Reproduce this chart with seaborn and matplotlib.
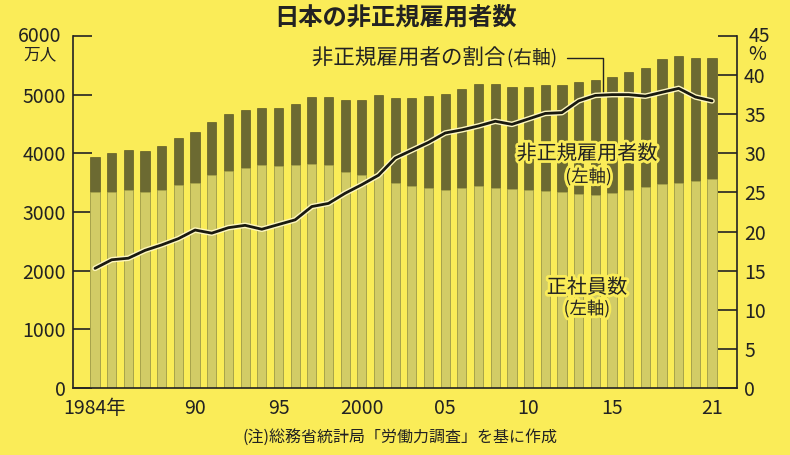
import numpy as np
import pandas as pd
import matplotlib
matplotlib.use("Agg")
import matplotlib.pyplot as plt
import matplotlib.patheffects as pe
import seaborn as sns

years = list(range(1984, 2022))
regular = [3333, 3343, 3383, 3337, 3377, 3452, 3488, 3639, 3705, 3756,
           3805, 3779, 3800, 3812, 3794, 3688, 3630, 3640, 3489, 3444,
           3410, 3375, 3415, 3449, 3410, 3395, 3374, 3352, 3345, 3302,
           3288, 3317, 3367, 3423, 3485, 3494, 3529, 3555]
nonregular = [604, 655, 674, 711, 755, 817, 881, 897, 958, 986,
              971, 1001, 1043, 1152, 1173, 1225, 1273, 1360, 1451, 1504,
              1564, 1634, 1678, 1735, 1765, 1727, 1763, 1812, 1816, 1910,
              1967, 1986, 2023, 2036, 2120, 2165, 2090, 2064]
ratio = [15.3, 16.4, 16.6, 17.6, 18.3, 19.1, 20.2, 19.8, 20.5, 20.8,
         20.3, 20.9, 21.5, 23.2, 23.6, 24.9, 26.0, 27.2, 29.4, 30.4,
         31.4, 32.6, 33.0, 33.5, 34.1, 33.7, 34.4, 35.1, 35.2, 36.7,
         37.4, 37.5, 37.5, 37.3, 37.8, 38.3, 37.2, 36.7]
xticks = [1984, 1990, 1995, 2000, 2005, 2010, 2015, 2021]
xticklabels = ["1984年", "90", "95", "2000", "05", "10", "15", "21"]

df = pd.DataFrame({"year": years, "regular": regular, "nonregular": nonregular,
                   "ratio": ratio})
df["total"] = df["regular"] + df["nonregular"]

BG = "#FAEC58"
DARK = "#6C6A32"
LIGHT = "#D2CC66"
INK = "#222222"
sns.set_theme(style="white")
plt.rcParams["font.family"] = ["Noto Sans CJK JP", "DejaVu Sans"]
plt.rcParams["axes.unicode_minus"] = False

fig = plt.figure(figsize=(7.9, 4.55), dpi=100, facecolor=BG)
ax = fig.add_axes([0.0924, 0.147, 0.8406, 0.774])
ax.set_facecolor(BG)

sns.barplot(data=df, x="year", y="total", native_scale=True, color=DARK,
            saturation=1, width=0.55, ax=ax, edgecolor="#4a4820", linewidth=0.4)
sns.barplot(data=df, x="year", y="regular", native_scale=True, color=LIGHT,
            saturation=1, width=0.55, ax=ax, edgecolor="#aca84c", linewidth=0.4)

TICKFS = 14
ax.set_xlim(1982.68, 2022.5)
ax.set_ylim(0, 6000)
ax.set_yticks([0, 1000, 2000, 3000, 4000, 5000, 6000])
ax.set_yticklabels(["0", "1000", "2000", "3000", "4000", "5000", ""], fontsize=TICKFS)
ax.set_xticks(xticks)
ax.set_xticklabels(xticklabels, fontsize=TICKFS)
ax.set_xlabel("")
ax.set_ylabel("")
for s in ["top", "right"]:
    ax.spines[s].set_visible(False)
for s in ["left", "bottom"]:
    ax.spines[s].set_color(INK)
    ax.spines[s].set_linewidth(1.2)
ax.tick_params(axis="y", direction="in", length=14, width=1.2, color=INK,
               pad=5, labelcolor=INK)
ax.tick_params(axis="x", direction="out", length=5, width=1.2, color=INK,
               pad=2, labelcolor=INK)

ax2 = ax.twinx()
sns.lineplot(data=df, x="year", y="ratio", ax=ax2, color="#1a1a10", lw=2.0,
             path_effects=[pe.Stroke(linewidth=4.0, foreground="#FFF8C0"), pe.Normal()])
ax2.set_ylim(0, 45)
ax2.set_xlim(1982.68, 2022.5)
ax2.set_yticks([0, 5, 10, 15, 20, 25, 30, 35, 40, 45])
ax2.set_yticklabels(["0", "5", "10", "15", "20", "25", "30", "35", "40", ""], fontsize=TICKFS)
ax2.set_ylabel("")
for s in ["top", "left", "bottom"]:
    ax2.spines[s].set_visible(False)
ax2.spines["right"].set_color(INK)
ax2.spines["right"].set_linewidth(1.2)
ax2.tick_params(axis="y", direction="in", length=14, width=1.2, color=INK,
                pad=5, labelcolor=INK)

# top labels of axes
fig.text(40 / 790, 1 - 36 / 455, "6000", ha="center", va="center", fontsize=TICKFS, color=INK)
fig.text(40 / 790, 1 - 55 / 455, "万人", ha="center", va="center", fontsize=12, color=INK)
fig.text(759 / 790, 1 - 36 / 455, "45", ha="center", va="center", fontsize=TICKFS, color=INK)
fig.text(757 / 790, 1 - 55 / 455, "%", ha="center", va="center", fontsize=TICKFS, color=INK)

fig.text(0.5, 1 - 18 / 455, "日本の非正規雇用者数", ha="center", va="center",
         fontsize=17.5, fontweight="bold", color=INK)
fig.text(400 / 790, 1 - 438 / 455, "(注)総務省統計局「労働力調査」を基に作成", ha="center",
         va="center", fontsize=11.5, color=INK)

halo = [pe.withStroke(linewidth=4, foreground=BG)]
# ratio label with leader line
ax.text(2008.6, 5620, "非正規雇用者の割合", ha="right", va="center", fontsize=15.5,
        color=INK, path_effects=halo)
ax.text(2008.7, 5620, "(右軸)", ha="left", va="center", fontsize=13.5,
        color=INK, path_effects=halo)
ax.plot([2012.3, 2014.45, 2014.45], [5620, 5620, 5045], color=INK, lw=1)

ax.text(2013.5, 3990, "非正規雇用者数", ha="center", va="center", fontsize=14.5,
        color=INK, path_effects=halo, zorder=5)
ax.text(2013.6, 3600, "(左軸)", ha="center", va="center", fontsize=12.5,
        color=INK, path_effects=halo, zorder=5)
ax.text(2013.5, 1710, "正社員数", ha="center", va="center", fontsize=14.5,
        color=INK, path_effects=halo, zorder=5)
ax.text(2013.5, 1350, "(左軸)", ha="center", va="center", fontsize=12.5,
        color=INK, path_effects=halo, zorder=5)

fig.savefig("out.png", dpi=100, facecolor=BG)
